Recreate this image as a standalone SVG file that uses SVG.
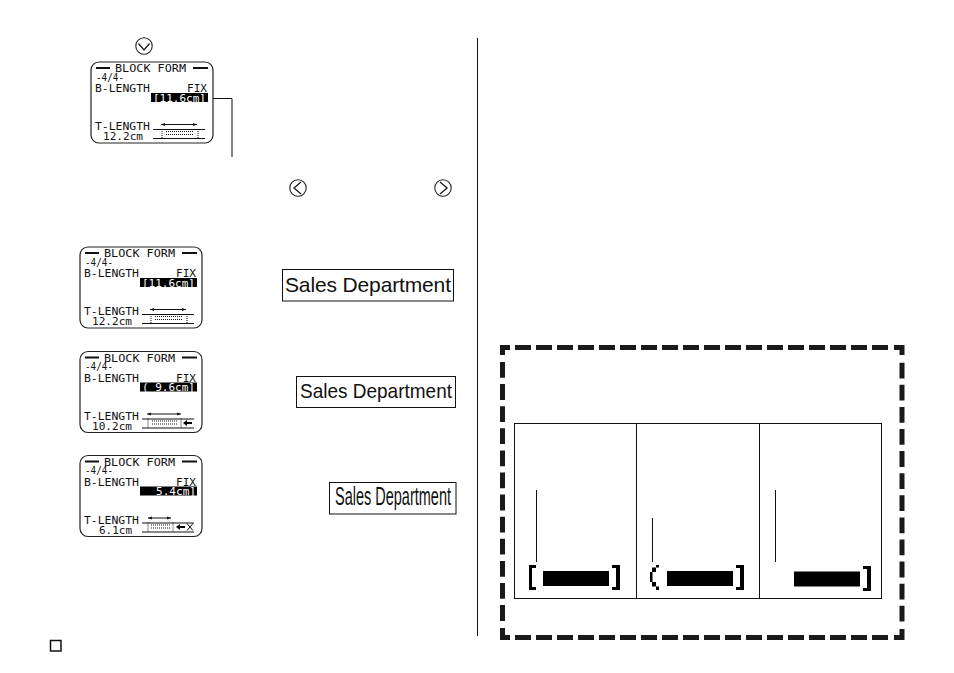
<svg xmlns="http://www.w3.org/2000/svg" width="954" height="673" viewBox="0 0 954 673">
<style>
.l{fill:none;stroke:#111;stroke-width:1}
.lcd{fill:#fff;stroke:#222;stroke-width:1.2}
.t{font-family:"DejaVu Sans Mono","Liberation Mono",monospace;font-size:9.800px;fill:#111;white-space:pre}
.w{fill:#fff}
.s{font-family:"Liberation Sans",Arial,sans-serif;font-size:21px;fill:#111}
.b{fill:#000}
.g{fill:none;stroke:#111;stroke-width:1}
.d{fill:none;stroke:#111;stroke-width:1;stroke-dasharray:1 1}
.h{fill:none;stroke:#111;stroke-width:2}
.f{fill:none;stroke:#1a1a1a;stroke-width:5}
.i{fill:#fff;stroke:#222;stroke-width:1.100}
.k{fill:none;stroke:#222;stroke-width:1.400}
</style>
<defs>
<g id="frame">
<rect class="lcd" x="0" y="0" width="122" height="81" rx="8"/>
<path class="h" d="M5 6H19M102 6H117"/>
</g>
<marker id="a" markerWidth="5" markerHeight="5" refX="4" refY="2" orient="auto-start-reverse" markerUnits="userSpaceOnUse"><path d="M0 0.500L4 2L0 3.500Z" fill="#111"/></marker>
<g id="btn"><circle class="i" cx="0" cy="0" r="8.200"/></g>
</defs>

<g id="connectors">
<path class="l" d="M208 98.500H232V157"/>
<path class="l" d="M477.500 38V636"/>
<path class="l" d="M536.500 490V562M652.500 518V562M775.500 490V562"/>
</g>

<g id="button-down"><use href="#btn" x="144" y="46"/><path class="k" d="M138.500 43.500L144 50L149.500 43.500"/></g>
<g id="button-left"><use href="#btn" x="298" y="188"/><path class="k" d="M301 182L294 188L301 194"/></g>
<g id="button-right"><use href="#btn" x="443" y="188"/><path class="k" d="M440 182L447 188L440 194"/></g>

<g id="lcd-top" transform="translate(91 62)">
<use href="#frame"/>
<text class="t" x="24" y="10" textLength="71" lengthAdjust="spacingAndGlyphs">BLOCK FORM</text>
<text class="t" x="5" y="18.500" textLength="28" lengthAdjust="spacingAndGlyphs">-4/4-</text>
<text class="t" x="4" y="30" textLength="55" lengthAdjust="spacingAndGlyphs">B-LENGTH</text>
<text class="t" x="96" y="30" textLength="20" lengthAdjust="spacingAndGlyphs">FIX</text>
<rect class="b" x="60" y="31" width="57" height="9"/>
<text class="t w" x="62" y="39.500" textLength="53" lengthAdjust="spacingAndGlyphs">[11.6cm]</text>
<text class="t" x="4" y="68" textLength="55" lengthAdjust="spacingAndGlyphs">T-LENGTH</text>
<text class="t" x="12" y="78" textLength="40" lengthAdjust="spacingAndGlyphs">12.2cm</text>
<path class="g" d="M62 67.500H114M62 76.500H114"/><path class="g" d="M70 62.500H106" marker-start="url(#a)" marker-end="url(#a)"/>
<path class="d" d="M71 67V76M107 67V76M75 69.500H103M75 72.500H103"/>
</g>

<g id="lcd-1" transform="translate(80 247)">
<use href="#frame"/>
<text class="t" x="24" y="10" textLength="71" lengthAdjust="spacingAndGlyphs">BLOCK FORM</text>
<text class="t" x="5" y="18.500" textLength="28" lengthAdjust="spacingAndGlyphs">-4/4-</text>
<text class="t" x="4" y="30" textLength="55" lengthAdjust="spacingAndGlyphs">B-LENGTH</text>
<text class="t" x="96" y="30" textLength="20" lengthAdjust="spacingAndGlyphs">FIX</text>
<rect class="b" x="60" y="31" width="57" height="9"/>
<text class="t w" x="62" y="39.500" textLength="53" lengthAdjust="spacingAndGlyphs">[11.6cm]</text>
<text class="t" x="4" y="68" textLength="55" lengthAdjust="spacingAndGlyphs">T-LENGTH</text>
<text class="t" x="12" y="78" textLength="40" lengthAdjust="spacingAndGlyphs">12.2cm</text>
<path class="g" d="M62 67.500H114M62 76.500H114"/><path class="g" d="M70 62.500H106" marker-start="url(#a)" marker-end="url(#a)"/>
<path class="d" d="M71 67V76M107 67V76M75 69.500H103M75 72.500H103"/>
</g>

<g id="lcd-2" transform="translate(80 351.500)">
<use href="#frame"/>
<text class="t" x="24" y="10" textLength="71" lengthAdjust="spacingAndGlyphs">BLOCK FORM</text>
<text class="t" x="5" y="18.500" textLength="28" lengthAdjust="spacingAndGlyphs">-4/4-</text>
<text class="t" x="4" y="30" textLength="55" lengthAdjust="spacingAndGlyphs">B-LENGTH</text>
<text class="t" x="96" y="30" textLength="20" lengthAdjust="spacingAndGlyphs">FIX</text>
<rect class="b" x="60" y="31" width="57" height="9"/>
<text class="t w" x="62" y="39.500" textLength="53" lengthAdjust="spacingAndGlyphs">( 9.6cm]</text>
<text class="t" x="4" y="68" textLength="55" lengthAdjust="spacingAndGlyphs">T-LENGTH</text>
<text class="t" x="12" y="78" textLength="40" lengthAdjust="spacingAndGlyphs">10.2cm</text>
<path class="g" d="M62 67.500H114M62 76.500H114"/><path class="g" d="M67 62.500H101" marker-start="url(#a)" marker-end="url(#a)"/>
<path class="d" d="M68 67V76M101 67V76M72 69.500H98M72 72.500H98"/>
<path class="b" d="M103 71.500L107 68.500V70.500H112V72.500H107V74.500Z"/>
</g>

<g id="lcd-3" transform="translate(80 455.500)">
<use href="#frame"/>
<text class="t" x="24" y="10" textLength="71" lengthAdjust="spacingAndGlyphs">BLOCK FORM</text>
<text class="t" x="5" y="18.500" textLength="28" lengthAdjust="spacingAndGlyphs">-4/4-</text>
<text class="t" x="4" y="30" textLength="55" lengthAdjust="spacingAndGlyphs">B-LENGTH</text>
<text class="t" x="96" y="30" textLength="20" lengthAdjust="spacingAndGlyphs">FIX</text>
<rect class="b" x="60" y="31" width="57" height="9"/>
<text class="t w" x="76" y="39.500" textLength="40" lengthAdjust="spacingAndGlyphs">5.4cm]</text>
<text class="t" x="4" y="68" textLength="55" lengthAdjust="spacingAndGlyphs">T-LENGTH</text>
<text class="t" x="19" y="78" textLength="33" lengthAdjust="spacingAndGlyphs">6.1cm</text>
<path class="g" d="M62 67.500H114M62 76.500H114"/><path class="g" d="M68 62.500H91" marker-start="url(#a)" marker-end="url(#a)"/>
<path class="d" d="M68 67V76M93 67V76M71 69.500H91M71 72.500H91"/>
<path class="b" d="M96 71.500L100 68.500V70.500H105V72.500H100V74.500Z"/>
<path class="g" d="M107 68L113 75M113 68L107 75"/>
</g>

<g id="label-1">
<rect class="l" x="282.500" y="269.500" width="171" height="31.500"/>
<text class="s" x="285" y="292" textLength="166">Sales Department</text>
</g>
<g id="label-2">
<rect class="l" x="296.500" y="376.500" width="159" height="31"/>
<text class="s" x="300" y="398" textLength="152" lengthAdjust="spacingAndGlyphs">Sales Department</text>
</g>
<g id="label-3">
<rect class="l" x="329.500" y="482.500" width="126.500" height="31.500"/>
<text class="s" style="font-size:25px" x="335" y="505" textLength="116" lengthAdjust="spacingAndGlyphs">Sales Department</text>
</g>

<g id="dashed-frame">
<path class="f" d="M502.500 355V347.500H510M894 347.500H902V355M502.500 628V637.500H510M894 637.500H902V629"/>
<path class="f" stroke-dasharray="16 5" d="M515 347.500H889M515 637.500H889"/>
<path class="f" stroke-dasharray="15.800 6.300" d="M502.500 362V623M902 362.700V623.500"/>
</g>

<g id="table">
<rect class="l" x="514.500" y="423.500" width="367" height="175"/>
<path class="l" d="M636.500 423.500V598.500M759.500 423.500V598.500"/>
</g>

<g id="field-1">
<path class="b" d="M529 565H536V568H532V587H536V590H529Z"/>
<rect class="b" x="543" y="571" width="66" height="15"/>
<path class="b" d="M612 565H620V590H612V587H616V568H612Z"/>
</g>
<g id="field-2">
<path class="b" d="M656 565H659V567.500H656ZM652 567.500H656V572H652ZM650 572H652.500V582H650ZM652 582H656V586.500H652ZM656 586.500H659V590H656Z"/>
<rect class="b" x="667" y="571" width="66" height="15"/>
<path class="b" d="M736 565H744V590H736V587H740V568H736Z"/>
</g>
<g id="field-3">
<rect class="b" x="794" y="571.500" width="66" height="15"/>
<path class="b" d="M863 566H871V591H863V588H867V569H863Z"/>
</g>

<rect id="page-mark" x="50.500" y="640.500" width="10.500" height="10.500" fill="none" stroke="#111" stroke-width="1.500"/>
</svg>
